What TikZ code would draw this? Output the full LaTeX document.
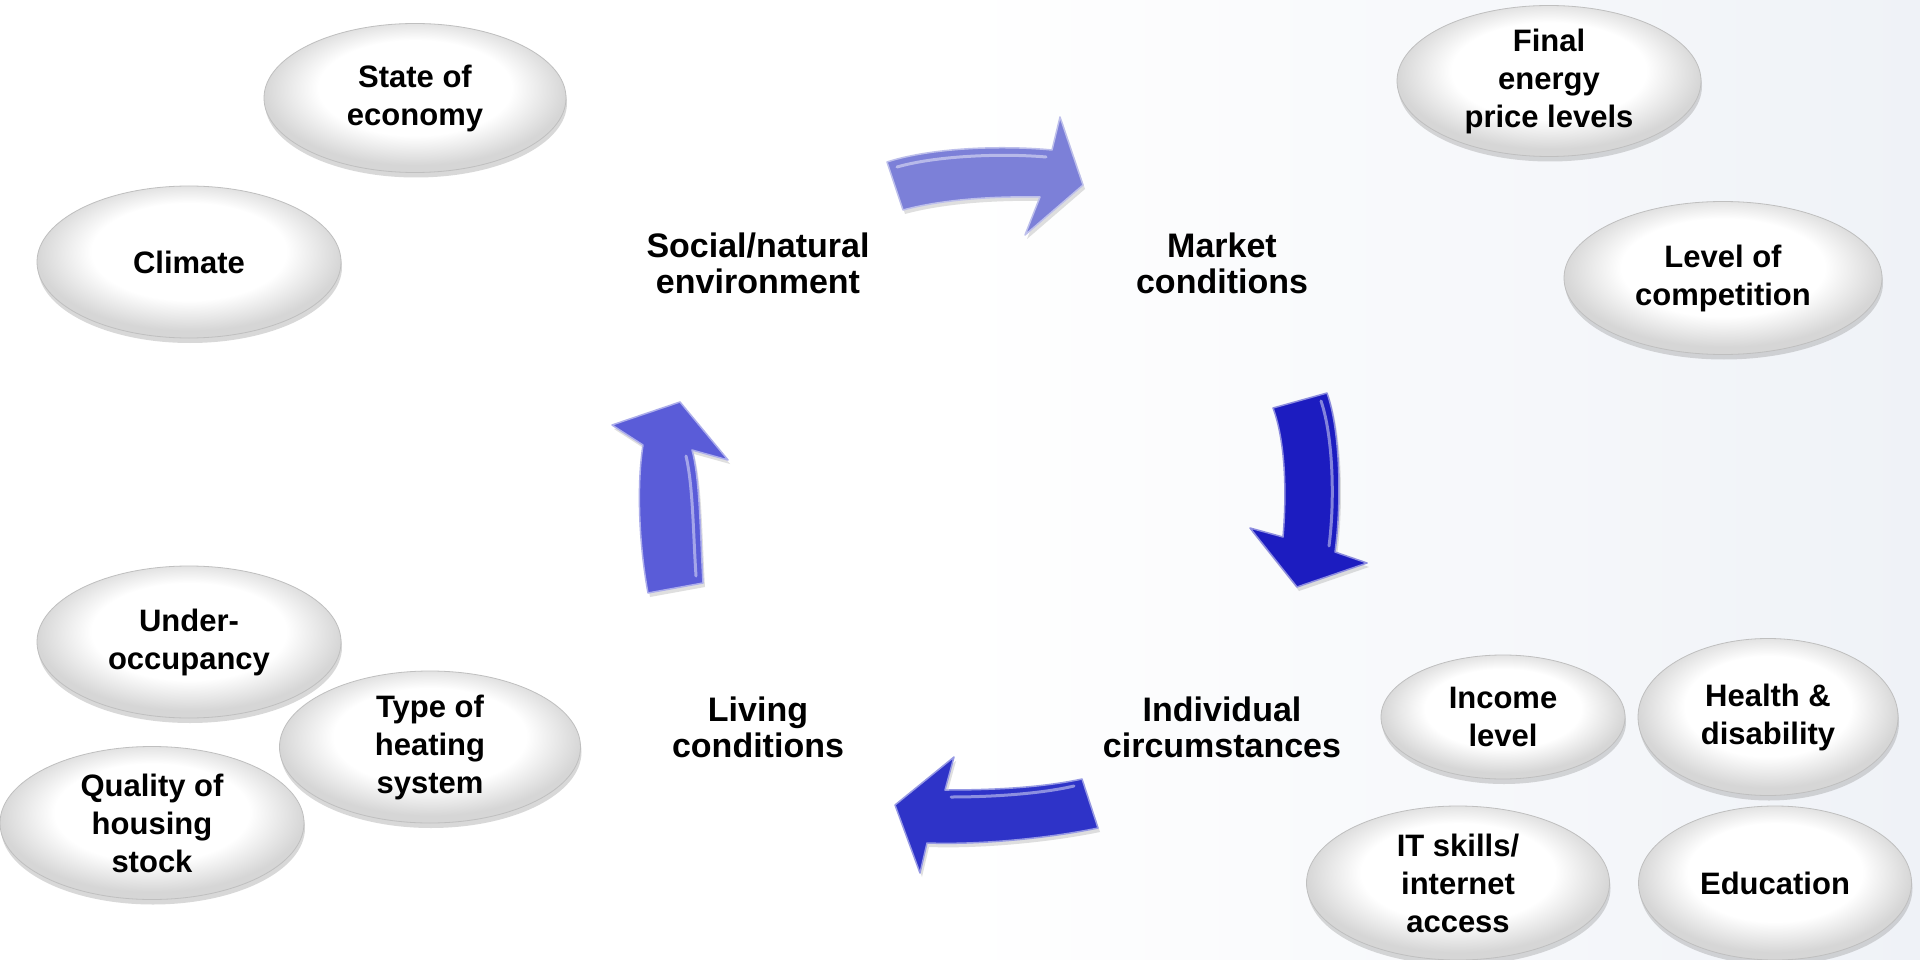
\documentclass[tikz,border=0pt]{standalone}
\usepackage{fontspec}
\setmainfont{Liberation Sans}
\usetikzlibrary{shapes.geometric,shadows,positioning}

\definecolor{bgside}{RGB}{239,242,247}
\definecolor{arrowtop}{RGB}{124,128,216}
\definecolor{arrowright}{RGB}{28,28,192}
\definecolor{arrowbottom}{RGB}{46,51,200}
\definecolor{arrowleft}{RGB}{90,92,216}
\pgfdeclareradialshading{glossy}{\pgfpoint{0bp}{5bp}}{color(0bp)=(white); color(16bp)=(white); color(25bp)=(gray!32); color(50bp)=(gray!32)}

\begin{document}
\begin{tikzpicture}[x=1pt,y=-1pt,node distance=464pt,
  factor/.style={ellipse,draw=gray!50,line width=0.8pt,shade,shading=glossy,
    minimum width=304pt,minimum height=152pt,inner sep=0pt,align=center,
    font=\fontsize{31}{38}\selectfont\bfseries,
    drop shadow={opacity=0.3,shadow xshift=1pt,shadow yshift=-5pt}},
  realm/.style={align=center,font=\fontsize{34}{36}\selectfont\bfseries},
  bigarrow/.style={line width=1.5pt,line join=round,
    drop shadow={opacity=0.25,shadow xshift=2pt,shadow yshift=-4pt}},
  gloss/.style={white,opacity=0.45,line width=3pt,line cap=round}]
  \useasboundingbox (0,0) rectangle (1920,960);
  \fill[white] (0,0) rectangle (960,960);
  \shade[left color=white,right color=bgside] (960,0) rectangle (1920,960);

  % the four realms
  \node[realm] (social) at (758,263) {Social/natural\\environment};
  \node[realm] (market) [right of=social] {Market\\conditions};
  \node[realm] (indiv)  [below of=market] {Individual\\circumstances};
  \node[realm] (living) [below of=social] {Living\\conditions};

  % cycle arrows
  \draw[bigarrow,fill=arrowtop,draw=arrowtop!50!white]
    (887,162) .. controls (930,148) and (1000,145) .. (1052,150)
    -- (1060,117) -- (1083,185) -- (1025,235) -- (1040,197)
    .. controls (990,196) and (940,200) .. (903,210) -- cycle;
  \draw[gloss] (897,167) .. controls (935,156) and (1000,153) .. (1046,157);
  \draw[bigarrow,fill=arrowright,draw=arrowright!50!white]
    (1273,408) -- (1327,393)
    .. controls (1340,430) and (1342,500) .. (1335,552)
    -- (1367,563) -- (1297,587) -- (1250,528) -- (1283,537)
    .. controls (1287,490) and (1285,440) .. (1273,408) -- cycle;
  \draw[gloss] (1321,401) .. controls (1333,436) and (1335,500) .. (1329,546);
  \draw[bigarrow,fill=arrowbottom,draw=arrowbottom!50!white]
    (1082,779) .. controls (1040,788) and (990,790) .. (945,790)
    -- (954,757) -- (895,805) -- (920,873) -- (927,843)
    .. controls (980,845) and (1050,838) .. (1098,828) -- cycle;
  \draw[gloss] (1074,786) .. controls (1040,794) and (990,797) .. (951,797);
  \draw[bigarrow,fill=arrowleft,draw=arrowleft!50!white]
    (648,593) -- (703,583)
    .. controls (700,530) and (700,480) .. (692,450)
    -- (728,460) -- (680,402) -- (612,425) -- (643,445)
    .. controls (636,490) and (640,550) .. (648,593) -- cycle;
  \draw[gloss] (696,576) .. controls (693,530) and (693,486) .. (686,456);

  % factors
  \node[factor,minimum width=302pt,minimum height=149pt] (economy) at (415,98) {State of\\economy};
  \node[factor] (climate) at (189,262) {Climate};
  \node[factor,minimum height=151pt] (prices) at (1549,81) {Final\\energy\\price levels};
  \node[factor,minimum width=318pt,minimum height=153pt] (competition) at (1723,278) {Level of\\competition};
  \node[factor] (occupancy) at (189,642) {Under-\\occupancy};
  \node[factor,minimum width=301pt] (heating) at (430,747) {Type of\\heating\\system};
  \node[factor,minimum height=153pt] (housing) at (152,823) {Quality of\\housing\\stock};
  \node[factor,minimum width=244pt,minimum height=124pt] (income) at (1503,717) {Income\\level};
  \node[factor,minimum width=260pt,minimum height=157pt] (health) at (1768,717) {Health \&\\disability};
  \node[factor,minimum width=303pt,minimum height=154pt] (itskills) at (1458,883) {IT skills/\\internet\\access};
  \node[factor,minimum width=273pt,minimum height=154pt] (education) at (1775,883) {Education};
\end{tikzpicture}
\end{document}
